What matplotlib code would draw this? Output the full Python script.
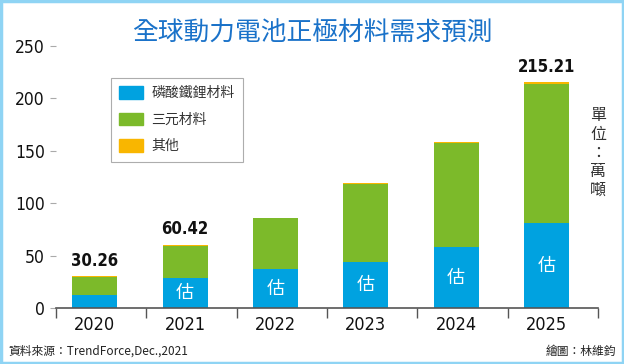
import matplotlib
matplotlib.use("Agg")
import matplotlib.pyplot as plt
from matplotlib.patches import Patch, Rectangle

years = ["2020", "2021", "2022", "2023", "2024", "2025"]
lfp = [12.0, 28.5, 37.0, 44.0, 58.0, 81.0]
ncm = [17.5, 30.9, 48.5, 74.5, 99.0, 132.5]
other = [0.76, 1.02, 0.5, 1.0, 1.0, 1.71]
totals = ["30.26", "60.42", None, None, None, "215.21"]
est = [False, True, True, True, True, True]

CJK = ["Noto Sans CJK TC", "DejaVu Sans"]
plt.rcParams["font.family"] = CJK
NUM = dict(family="DejaVu Sans", stretch="condensed")

BLUE = "#00a2e0"
GREEN = "#7cba2a"
ORANGE = "#f9b600"

fig = plt.figure(figsize=(6.24, 3.64), dpi=100)
fig.patches.append(Rectangle((0.002, 0.003), 0.996, 0.994, transform=fig.transFigure,
                             fill=False, edgecolor="#8fd4f4", linewidth=2.5))
ax = fig.add_axes([56 / 624, 1 - 308 / 364, 542 / 624, 278 / 364])

x = list(range(len(years)))
ax.bar(x, lfp, width=0.5, color=BLUE)
ax.bar(x, ncm, width=0.5, bottom=lfp, color=GREEN)
bot2 = [a + b for a, b in zip(lfp, ncm)]
ax.bar(x, other, width=0.5, bottom=bot2, color=ORANGE)

for i in x:
    top = bot2[i] + other[i]
    if totals[i]:
        ax.text(i, top + 6, totals[i], ha="center", va="bottom", fontsize=12,
                fontweight="bold", color="#111111", **NUM)
    if est[i]:
        ax.text(i, lfp[i] / 2, "估", ha="center", va="center", fontsize=13,
                color="white", family=CJK)

ax.set_xlim(-0.43, 5.57)
ax.set_ylim(0, 265)
ax.set_yticks([0, 50, 100, 150, 200, 250])
ax.set_xticks(x)
ax.set_xticklabels(years, fontsize=13, color="#111111", **NUM)
ax.set_xticks([i - 0.43 for i in range(7)], minor=True)
for lab in ax.get_yticklabels():
    lab.set_family("DejaVu Sans")
    lab.set_stretch("condensed")
    lab.set_fontsize(12.5)
    lab.set_color("#111111")
ax.tick_params(axis="x", which="major", length=0, pad=6)
ax.tick_params(axis="x", which="minor", length=7, color="#555555", width=1)
ax.tick_params(axis="y", length=4, color="#aaaaaa", pad=4)
for s in ["top", "right", "left"]:
    ax.spines[s].set_visible(False)
ax.spines["bottom"].set_color("#555555")
ax.spines["bottom"].set_linewidth(1.2)

handles = [Patch(color=BLUE), Patch(color=GREEN), Patch(color=ORANGE)]
leg = ax.legend(handles, ["磷酸鐵鋰材料", "三元材料", "其他"], loc="upper left",
                bbox_to_anchor=(55 / 542, (308 - 78) / 278), borderaxespad=0,
                fontsize=10, frameon=True, fancybox=False, edgecolor="#999999",
                handlelength=1.7, handleheight=1.0, handletextpad=0.6,
                borderpad=0.6, labelspacing=0.9)
leg.get_frame().set_linewidth(0.8)
for t in leg.get_texts():
    t.set_color("#333333")

fig.text(0.5, 1 - 34 / 364, "全球動力電池正極材料需求預測", ha="center", va="center",
         fontsize=18.5, color="#1a72c9")
fig.text(598 / 624, 1 - 153 / 364, "單\n位\n：\n萬\n噸", ha="center", va="center",
         fontsize=11.5, color="#333333", linespacing=1.12)
fig.text(8 / 624, 1 - 351 / 364, "資料來源：TrendForce,Dec.,2021", ha="left",
         va="center", fontsize=8.5, color="#222222")
fig.text(616 / 624, 1 - 351 / 364, "繪圖：林維鈞", ha="right", va="center",
         fontsize=8.5, color="#222222")

fig.savefig("out.png", dpi=100)
